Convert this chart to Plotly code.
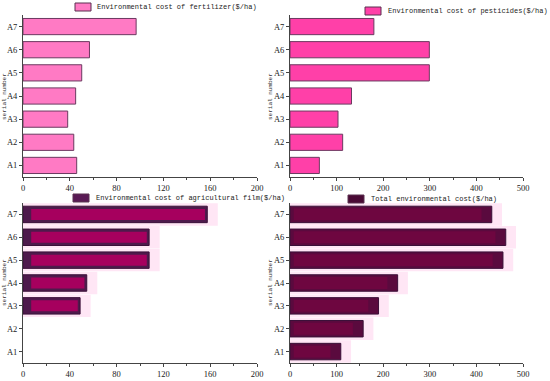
import plotly.graph_objects as go

categories = ["A1", "A2", "A3", "A4", "A5", "A6", "A7"]
fertilizer = [45.9, 43.4, 38.2, 45.0, 50.2, 56.8, 96.7]
pesticides = [63, 113, 103, 132, 299, 299, 180]
film = [0, 0, 48.8, 54.5, 107.8, 107.8, 157.5]
total = [109, 157, 190, 231, 457, 463, 433]

titles = ["Environmental cost of fertilizer($/ha)",
          "Environmental cost of pesticides($/ha)",
          "Environmental cost of agricultural film($/ha)",
          "Total environmental cost($/ha)"]
ytitle = "serial number"

W, H = 550, 381
def px(x): return x / W
def py(y): return 1 - y / H

fig = go.Figure()

panels = [
    dict(x0=23, x1=257, y0=15, y1=177, xmax=200, dt=40, mt=20),
    dict(x0=290, x1=523, y0=15, y1=177, xmax=500, dt=100, mt=50),
    dict(x0=23, x1=257, y0=203, y1=363, xmax=200, dt=40, mt=20),
    dict(x0=290, x1=523, y0=203, y1=363, xmax=500, dt=100, mt=50),
]

tickfont = dict(family="Liberation Serif", size=8.5, color="#222")
monofont = dict(family="Liberation Mono", size=7, color="#222")

for i, p in enumerate(panels):
    n = "" if i == 0 else str(i + 1)
    fig.update_layout(**{
        f"xaxis{n}": dict(domain=[px(p["x0"]), px(p["x1"])], range=[0, p["xmax"]],
                          anchor=f"y{n}", dtick=p["dt"], tick0=0, ticks="outside",
                          ticklen=3, tickwidth=1, tickcolor="#444", automargin=False,
                          minor=dict(dtick=p["mt"], ticks="outside", ticklen=2, tickcolor="#444"),
                          showline=True, linecolor="#444", linewidth=1, showgrid=False,
                          zeroline=False, tickfont=tickfont),
        f"yaxis{n}": dict(domain=[py(p["y1"]), py(p["y0"])], range=[-0.5, 6.5],
                          anchor=f"x{n}", ticks="outside", ticklen=3, tickcolor="#444",
                          showline=True, linecolor="#444", linewidth=1, showgrid=False,
                          zeroline=False, tickfont=tickfont, type="category", automargin=False),
    })

fig.add_trace(go.Bar(y=categories, x=fertilizer, orientation="h", width=0.7,
                     marker=dict(color="#ff7ac4", line=dict(color="#6b3a60", width=1)),
                     xaxis="x", yaxis="y", showlegend=False))
fig.add_trace(go.Bar(y=categories, x=pesticides, orientation="h", width=0.7,
                     marker=dict(color="#ff40a8", line=dict(color="#6b3a60", width=1)),
                     xaxis="x2", yaxis="y2", showlegend=False))

film_show = [v if v > 0 else None for v in film]
fig.add_trace(go.Bar(y=categories, x=[v + 9 if v else None for v in film_show],
                     orientation="h", width=0.98,
                     marker=dict(color="#ffe6f5", line=dict(width=0)),
                     xaxis="x3", yaxis="y3", showlegend=False))
fig.add_trace(go.Bar(y=categories, x=film_show, orientation="h", width=0.72,
                     marker=dict(color="#4e1a4c", line=dict(color="#3a1038", width=1)),
                     xaxis="x3", yaxis="y3", showlegend=False))
fig.add_trace(go.Bar(y=categories, x=[v - 9 if v else None for v in film_show],
                     base=[7] * 7, orientation="h", width=0.48,
                     marker=dict(color="#a6005e", line=dict(width=0)),
                     xaxis="x3", yaxis="y3", showlegend=False))

fig.add_trace(go.Bar(y=categories, x=[v + 22 for v in total], orientation="h", width=0.98,
                     marker=dict(color="#ffe6f5", line=dict(width=0)),
                     xaxis="x4", yaxis="y4", showlegend=False))
fig.add_trace(go.Bar(y=categories, x=total, orientation="h", width=0.72,
                     marker=dict(color="#5a0a3e", line=dict(color="#3a1038", width=1)),
                     xaxis="x4", yaxis="y4", showlegend=False))
fig.add_trace(go.Bar(y=categories, x=[v - 30 for v in total], base=[8] * 7,
                     orientation="h", width=0.52,
                     marker=dict(color="#6e0640", line=dict(width=0)),
                     xaxis="x4", yaxis="y4", showlegend=False))

fig.update_layout(barmode="overlay")

legends = [
    dict(sx=75, sy=3, color="#ff7ac4", tx=95, ty=7),
    dict(sx=365, sy=7, color="#ff40a8", tx=386, ty=11),
    dict(sx=73, sy=194, color="#5a1a55", tx=94, ty=198),
    dict(sx=348, sy=195, color="#4a0a35", tx=369, ty=199),
]
shapes = []
annotations = []
for lg, t in zip(legends, titles):
    shapes.append(dict(type="rect", xref="paper", yref="paper",
                       x0=px(lg["sx"]), x1=px(lg["sx"] + 16),
                       y0=py(lg["sy"] + 8), y1=py(lg["sy"]),
                       fillcolor=lg["color"], line=dict(color="#5a3050", width=1)))
    annotations.append(dict(text=t, xref="paper", yref="paper", x=px(lg["tx"]), y=py(lg["ty"]),
                            xanchor="left", yanchor="middle", showarrow=False, font=monofont))

for (xt, yt) in [(4, 97), (270, 97), (4, 283), (270, 283)]:
    annotations.append(dict(text=ytitle, xref="paper", yref="paper", x=px(xt), y=py(yt),
                            xanchor="center", yanchor="middle", showarrow=False, textangle=-90,
                            font=dict(family="Liberation Mono", size=6, color="#333")))

fig.update_layout(width=W, height=H, margin=dict(l=0, r=0, t=0, b=0, autoexpand=False),
                  paper_bgcolor="white", plot_bgcolor="white",
                  shapes=shapes, annotations=annotations)

fig.write_html("out.html", config={"displayModeBar": False},
               post_script="document.body.style.margin='0';document.body.style.overflow='hidden';")
